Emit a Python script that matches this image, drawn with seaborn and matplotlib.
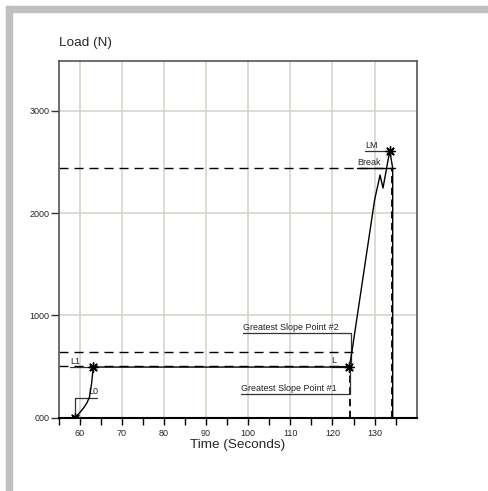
import matplotlib
matplotlib.use("Agg")
import matplotlib.pyplot as plt
import seaborn as sns
import pandas as pd
from matplotlib.patches import Rectangle

# load curve
time_s = [58.9, 60.0, 61.0, 61.7, 62.3, 62.8, 63.2, 124.0, 124.6, 130.0, 131.3, 132.0, 133.6, 134.3, 134.3]
load_n = [0, 50, 100, 145, 200, 330, 495, 495, 640, 2128, 2372, 2245, 2610, 2440, 0]

# marked points (L0, L1, L, LM)
star_time = [58.9, 63.2, 124.0, 133.6]
star_load = [0, 495, 495, 2610]

# reference levels
break_time = 134.3
break_load = 2440
gsp_time = 124.1
gsp2_load = 639
l1_load = 510

x_ticks = [60, 70, 80, 90, 100, 110, 120, 130]
y_ticks = [0, 1000, 2000, 3000]
y_tick_labels = ["000", "1000", "2000", "3000"]

curve = pd.DataFrame({"time": time_s, "load": load_n})
stars = pd.DataFrame({"time": star_time, "load": star_load})

sns.set_style("white")
plt.rcParams["font.family"] = ["Liberation Sans", "DejaVu Sans"]

fig = plt.figure(figsize=(4.88, 4.91), dpi=100)
# grey frame strips at top and left
fig.patches.append(Rectangle((6 / 488, 1 - 12 / 491), 1, 6 / 491, transform=fig.transFigure,
                             color="#c0c0c0", zorder=0))
fig.patches.append(Rectangle((6 / 488, 0), 6 / 488, 1 - 6 / 491, transform=fig.transFigure,
                             color="#c0c0c0", zorder=0))

ax = fig.add_axes([58.7 / 488, 1 - 417.7 / 491, 358 / 488, 356.7 / 491])
ax.set_xlim(55, 140)
ax.set_ylim(0, 3487)

grid_c = "#d5d1c5"
for x in x_ticks:
    ax.axvline(x, color=grid_c, lw=1.1, zorder=0)
for y in y_ticks[1:]:
    ax.axhline(y, color=grid_c, lw=1.1, zorder=0)

dash = (0, (6.5, 4.3))
ax.plot([55, break_time], [break_load, break_load], color="black", lw=1.0, ls=dash)
ax.plot([55, 125.2], [gsp2_load, gsp2_load], color="black", lw=1.0, ls=dash)
ax.plot([55, gsp_time], [l1_load, l1_load], color="black", lw=1.0, ls=dash)
ax.plot([gsp_time, gsp_time], [0, 495], color="black", lw=1.3, ls=(0, (4, 2.5)))
ax.plot([break_time - 0.2, break_time - 0.2], [0, break_load], color="black", lw=1.3, ls=(0, (4, 2.5)))

sns.lineplot(data=curve, x="time", y="load", sort=False, estimator=None, color="black",
             lw=1.0, ax=ax, zorder=4)
sns.scatterplot(data=stars, x="time", y="load", marker=(8, 2, 0), s=45, color="black",
                linewidth=1.0, ax=ax, zorder=5)

# annotation leaders
lc = "#333333"
ax.plot([58.9, 58.9, 64.1], [0, 196, 196], color=lc, lw=0.9)
ax.text(62.0, 210, "L0", fontsize=6.5, ha="left", va="bottom", color="#222222")
ax.plot([57.8, 63.2], [495, 495], color=lc, lw=0.9)
ax.text(57.8, 510, "L1", fontsize=6.5, ha="left", va="bottom", color="#222222")
ax.plot([119.8, 124.0], [495, 495], color=lc, lw=1.6)
ax.text(119.8, 515, "L", fontsize=6.5, ha="left", va="bottom", color="#222222")
ax.plot([98.7, 124.3, 124.3], [828, 828, 495], color=lc, lw=0.9)
ax.text(98.7, 842, "Greatest Slope Point #2", fontsize=6.5, ha="left", va="bottom", color="#222222")
ax.plot([98.2, 124.1, 124.1], [228, 228, 495], color=lc, lw=0.9)
ax.text(98.2, 242, "Greatest Slope Point #1", fontsize=6.5, ha="left", va="bottom", color="#222222")
ax.plot([127.7, 133.6], [2607, 2607], color=lc, lw=0.9)
ax.text(127.7, 2621, "LM", fontsize=6.5, ha="left", va="bottom", color="#222222")
ax.plot([125.8, 134.8], [2438, 2438], color="black", lw=1.0)
ax.text(125.8, 2455, "Break", fontsize=6.5, ha="left", va="bottom", color="#222222")

ax.set_xticks(x_ticks)
ax.set_xticks(list(range(55, 140, 10)), minor=True)
ax.set_yticks(y_ticks)
ax.set_yticklabels(y_tick_labels)
ax.tick_params(axis="x", which="both", direction="out", length=5, width=1.0, pad=3,
               labelsize=6.5, color="black", bottom=True)
ax.tick_params(axis="y", direction="out", length=6, width=1.0, pad=0.5, labelsize=6.5,
               color="#333333", left=True)

for side in ["top", "right", "left"]:
    ax.spines[side].set_color("#555555")
    ax.spines[side].set_linewidth(1.2)
ax.spines["bottom"].set_color("black")
ax.spines["bottom"].set_linewidth(1.5)

ax.set_xlabel("Time (Seconds)", fontsize=9.7, labelpad=1)
ax.set_ylabel("")
ax.text(0, 1.0496, "Load (N)", fontsize=9.7, ha="left", va="center", transform=ax.transAxes)

fig.savefig("out.png", dpi=100, facecolor="white")
